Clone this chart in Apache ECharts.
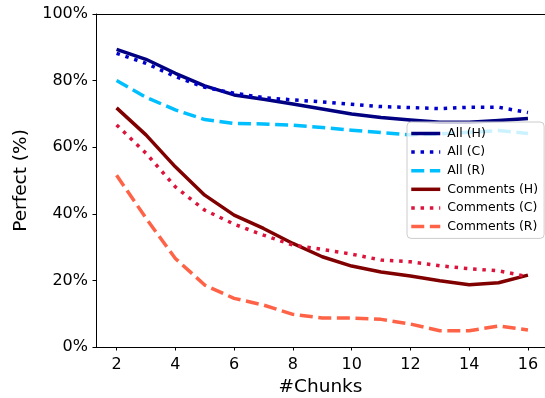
<!DOCTYPE html>
<html>
<head>
<meta charset="utf-8">
<script src="https://cdn.jsdelivr.net/npm/echarts@6/dist/echarts.min.js"></script>
<style>
html,body{margin:0;padding:0;background:#fff;}
#chart{width:545px;height:398px;}
</style>
</head>
<body>
<div id="chart"></div>
<script>
const chunks = [2,3,4,5,6,7,8,9,10,11,12,13,14,15,16];
const xTicks = [2,4,6,8,10,12,14,16];
const yTicks = [0,20,40,60,80,100];
const allH = [89.4,86.4,82.2,78.4,75.7,74.4,73.0,71.5,70.0,68.9,68.2,67.5,67.5,68.0,68.6];
const allC = [88.2,85.2,81.2,78.0,76.2,74.9,74.2,73.6,72.9,72.2,71.9,71.6,72.0,72.0,70.4];
const allR = [80.0,75.0,71.2,68.3,67.1,67.0,66.6,65.9,65.1,64.4,63.7,64.0,64.5,65.0,64.1];
const comH = [71.8,63.7,54.1,45.6,39.6,35.6,31.1,27.1,24.3,22.5,21.3,19.9,18.7,19.3,21.6];
const comC = [66.7,58.2,48.1,41.1,36.9,33.6,30.6,29.3,27.9,26.1,25.6,24.4,23.5,22.9,21.1];
const comR = [51.6,38.7,26.6,18.6,14.6,12.6,9.8,8.7,8.7,8.3,6.9,4.9,4.9,6.3,5.1];
const seriesNames = ['All (H)','All (C)','All (R)','Comments (H)','Comments (C)','Comments (R)'];

const LW = 3.5;
const styles = [
  {color:'#000080', type:'solid'},
  {color:'#0000CD', type:[3.5,5.8]},
  {color:'#00BFFF', type:[13,5.6]},
  {color:'#800000', type:'solid'},
  {color:'#DC143C', type:[3.5,5.8]},
  {color:'#FF6347', type:[13,5.6]}
];
const values = [allH, allC, allR, comH, comC, comR];
const FONT = 'DejaVu Sans';
const X_MIN = 1.3, X_MAX = 16.58;

const chart = echarts.init(document.getElementById('chart'), null, {renderer:'canvas'});
chart.setOption({
  animation: false,
  backgroundColor: '#fff',
  textStyle: {fontFamily: FONT},
  grid: {left: 96, top: 14, right: 0, bottom: 51, containLabel: false, outerBoundsMode: 'none'},
  xAxis: [{
    type: 'value', min: X_MIN, max: X_MAX,
    name: '#Chunks', nameLocation: 'middle', nameGap: 30,
    nameTextStyle: {fontSize: 18.5, color: '#000', fontFamily: FONT},
    axisLine: {show: true, onZero: false, lineStyle: {color: '#000', width: 1}},
    axisTick: {show: true, length: 3.5, lineStyle: {color: '#000', width: 1}, customValues: xTicks},
    axisLabel: {show: true, fontSize: 16, color: '#000', margin: 9.5, fontFamily: FONT, customValues: xTicks},
    splitLine: {show: false}
  },{
    type: 'value', position: 'top', min: X_MIN, max: X_MAX,
    axisLine: {show: true, onZero: false, lineStyle: {color: '#000', width: 1}},
    axisTick: {show: false}, axisLabel: {show: false}, splitLine: {show: false}
  }],
  yAxis: {
    type: 'value', min: 0, max: 100, interval: 20,
    name: 'Perfect (%)', nameLocation: 'middle', nameGap: 65,
    nameTextStyle: {fontSize: 18.5, color: '#000', fontFamily: FONT},
    axisLine: {show: true, onZero: false, lineStyle: {color: '#000', width: 1}},
    axisTick: {show: true, length: 3.5, lineStyle: {color: '#000', width: 1}},
    axisLabel: {fontSize: 16, color: '#000', margin: 8, fontFamily: FONT, formatter: '{value}%'},
    splitLine: {show: false}
  },
  legend: {
    orient: 'vertical', left: 407, top: 122,
    padding: [5, 6, 5.4, 2.5],
    itemWidth: 29, itemHeight: 14, itemGap: 5.6,
    backgroundColor: 'rgba(255,255,255,0.8)',
    borderColor: '#cccccc', borderWidth: 1, borderRadius: 4,
    textStyle: {fontSize: 12.5, color: '#000', fontFamily: FONT, padding: [0,0,0,2]},
    itemStyle: {opacity: 0},
    lineStyle: {width: LW},
    data: seriesNames,
    z: 10
  },
  series: seriesNames.map((n, i) => ({
    name: n, type: 'line', xAxisIndex: 0,
    data: chunks.map((c, j) => [c, values[i][j]]),
    showSymbol: false, symbol: 'none',
    lineStyle: {color: styles[i].color, width: LW, type: styles[i].type, cap: 'butt', join: 'round'},
    itemStyle: {color: styles[i].color}
  }))
});
</script>
</body>
</html>
